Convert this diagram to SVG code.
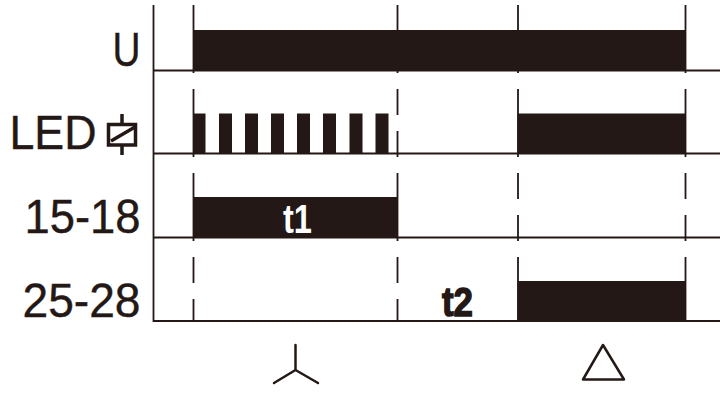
<svg xmlns="http://www.w3.org/2000/svg" width="720" height="397" viewBox="0 0 720 397">
<style>
.l{stroke:#231815;stroke-width:1.800;fill:none}
.b{fill:#231815}
.t{font-family:"Liberation Sans",Arial,sans-serif;font-size:47.500px;fill:#231815;stroke:#231815;stroke-width:.4;text-anchor:end}
.s{font-family:"Liberation Sans",Arial,sans-serif;font-size:41px;font-weight:bold;text-anchor:middle}
</style>
<rect width="720" height="397" fill="#fff"/>
<g id="connectors">
<path class="l" d="M153.500 5V322M153 70.500H720M153 153.500H720M153 237.500H720M153 321H720"/>
<path class="l" d="M193.500 5V73M397.500 5V73M518 5V73M685.500 5V73"/>
<path class="l" d="M193.500 89V157M397.500 89V115M397.500 131V157M518 89V157M685.500 89V157"/>
<path class="l" d="M193.500 173V241M397.500 173V241M518 173V199M518 215V241M685.500 173V199M685.500 215V241"/>
<path class="l" d="M193.500 257V283M193.500 299V321M397.500 257V283M397.500 299V321M518 257V321M685.500 257V321"/>
</g>
<g id="U"><text class="t" x="140.500" y="66" textLength="28" lengthAdjust="spacingAndGlyphs">U</text><rect class="b" x="193.500" y="30" width="492.500" height="41"/></g>
<g id="LED">
<text class="t" x="96.500" y="149" textLength="87" lengthAdjust="spacingAndGlyphs">LED</text>
<g id="relay"><rect x="108.500" y="124.500" width="27" height="20.500" fill="none" stroke="#231815" stroke-width="3.500"/><path d="M122 114V124M122 145V155M111 141L135 127" stroke="#231815" stroke-width="3.500" fill="none"/></g>
<path class="b" d="M193.500 113.500h12v40.500h-12zM219 113.500h13v40.500h-13zM245 113.500h13v40.500h-13zM271 113.500h13v40.500h-13zM297 113.500h13v40.500h-13zM323 113.500h13v40.500h-13zM349.500 113.500h13v40.500h-13zM375.500 113.500h13v40.500h-13z"/>
<rect class="b" x="517.500" y="113.500" width="168.500" height="40.500"/>
</g>
<g id="r15-18"><text class="t" x="140.500" y="233" textLength="116" lengthAdjust="spacingAndGlyphs">15-18</text><rect class="b" x="193.500" y="197" width="204.500" height="41"/><text class="s" x="297.500" y="233" fill="#fff" textLength="29" lengthAdjust="spacingAndGlyphs">t1</text></g>
<g id="r25-28"><text class="t" x="140.500" y="316.500" textLength="118" lengthAdjust="spacingAndGlyphs">25-28</text><rect class="b" x="517.500" y="281" width="168.500" height="40.500"/><text class="s" x="457.500" y="316" fill="#231815" stroke="#231815" stroke-width="1.500" textLength="31" lengthAdjust="spacingAndGlyphs">t2</text></g>
<g id="star"><path class="l" stroke-linecap="round" d="M295.500 345V370M295.500 370L274 383M295.500 370L318 383" style="stroke-width:2.500"/></g>
<g id="delta"><path class="l" stroke-linejoin="round" d="M603 345L624 379.500H583Z" style="stroke-width:2.500"/></g>
</svg>
